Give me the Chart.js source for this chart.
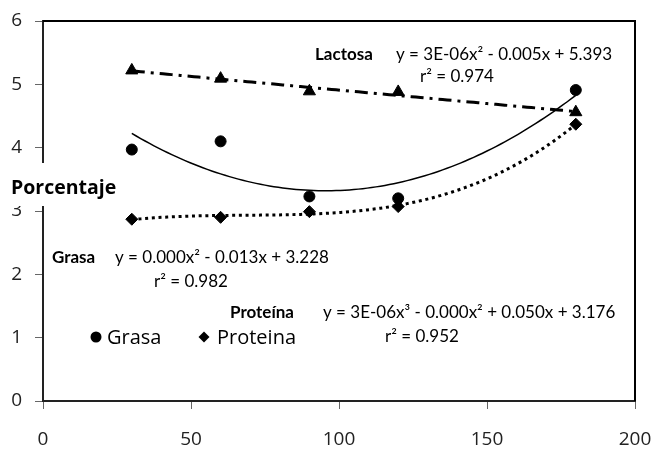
<!DOCTYPE html>
<html lang="es">
<head>
  <meta charset="UTF-8" />
  <title>Porcentaje de grasa, proteína y lactosa</title>
  <script src="https://cdn.jsdelivr.net/npm/chart.js"></script>
  <style>
    html, body { margin: 0; padding: 0; background: #fff; }
    #wrap { width: 655px; height: 449px; }
  </style>
</head>
<body>
<div id="wrap"><canvas id="grafico" width="655" height="449"></canvas></div>
<script>
// datos
const dias = [30, 60, 90, 120, 180];
const grasa = [3.97, 4.10, 3.23, 3.20, 4.91];
const proteina = [2.87, 2.90, 2.99, 3.07, 4.37];
const lactosa = [5.22, 5.09, 4.89, 4.88, 4.56];
const xTicks = [0, 50, 100, 150, 200];
const yTicks = [0, 1, 2, 3, 4, 5, 6];
const ejeY = "Porcentaje";
const leyenda = ["Grasa", "Proteina"];
const ecuaciones = [
  { nombre: "Lactosa", eq: "y = 3E-06x² - 0.005x + 5.393", r2: "r² = 0.974" },
  { nombre: "Grasa", eq: "y = 0.000x² - 0.013x + 3.228", r2: "r² = 0.982" },
  { nombre: "Proteína", eq: "y = 3E-06x³ - 0.000x² + 0.050x + 3.176", r2: "r² = 0.952" }
];
// posiciones de los textos (px)
const posEc = [
  { n: 315, e: 396, y: 60, r: 420, ry: 82 },
  { n: 52, e: 115, y: 263, r: 154, ry: 287 },
  { n: 230, e: 323, y: 318, r: 385, ry: 342 }
];

// ajuste polinómico por mínimos cuadrados (línea de tendencia)
function ajuste(xs, ys, grado) {
  const n = grado + 1;
  const A = [];
  for (let i = 0; i < n; i++) {
    A.push(new Array(n + 1).fill(0));
  }
  xs.forEach((x0, k) => {
    const x = x0 / 100;
    for (let i = 0; i < n; i++) {
      for (let j = 0; j < n; j++) A[i][j] += Math.pow(x, i + j);
      A[i][n] += ys[k] * Math.pow(x, i);
    }
  });
  for (let c = 0; c < n; c++) {
    let p = c;
    for (let r = c + 1; r < n; r++) if (Math.abs(A[r][c]) > Math.abs(A[p][c])) p = r;
    [A[c], A[p]] = [A[p], A[c]];
    for (let r = 0; r < n; r++) {
      if (r === c) continue;
      const f = A[r][c] / A[c][c];
      for (let j = c; j <= n; j++) A[r][j] -= f * A[c][j];
    }
  }
  const coef = A.map((fila, i) => fila[n] / fila[i]);
  const pts = [];
  for (let x = dias[0]; x <= dias[dias.length - 1] + 0.01; x += 1.5) {
    let y = 0;
    coef.forEach((c, i) => { y += c * Math.pow(x / 100, i); });
    pts.push({ x, y });
  }
  return pts;
}

const puntos = arr => dias.map((d, i) => ({ x: d, y: arr[i] }));

const marco = {
  id: "marco",
  afterDraw(chart) {
    const { ctx, chartArea: a } = chart;
    ctx.save();
    ctx.strokeStyle = "#000";
    ctx.lineWidth = 2;
    ctx.beginPath();
    ctx.moveTo(a.left, a.top);
    ctx.lineTo(a.right, a.top);
    ctx.lineTo(a.right, a.bottom);
    ctx.stroke();

    // etiqueta del eje Y, sobre fondo blanco
    ctx.fillStyle = "#fff";
    ctx.fillRect(0, 163, 122, 43);
    ctx.fillStyle = "#000";
    ctx.font = "bold 19.5px 'Open Sans'";
    ctx.textBaseline = "alphabetic";
    ctx.fillText(ejeY, 11, 194);

    // ecuaciones
    ecuaciones.forEach((e, i) => {
      const p = posEc[i];
      ctx.font = "bold 17px Lato";
      ctx.fillText(e.nombre, p.n, p.y);
      ctx.font = "17px Lato";
      ctx.fillText(e.eq, p.e, p.y);
      ctx.fillText(e.r2, p.r, p.ry);
    });

    // leyenda
    ctx.font = "20px 'Open Sans'";
    ctx.beginPath();
    ctx.arc(96, 337, 5.5, 0, Math.PI * 2);
    ctx.fill();
    ctx.fillText(leyenda[0], 107, 344);
    ctx.beginPath();
    ctx.moveTo(204, 331.5);
    ctx.lineTo(209.5, 337);
    ctx.lineTo(204, 342.5);
    ctx.lineTo(198.5, 337);
    ctx.closePath();
    ctx.fill();
    ctx.fillText(leyenda[1], 217, 344);
    ctx.restore();
  }
};

new Chart(document.getElementById("grafico"), {
  type: "scatter",
  data: {
    datasets: [
      { label: "tend-grasa", data: ajuste(dias, grasa, 2), showLine: true, pointRadius: 0,
        borderColor: "#000", borderWidth: 1.5, order: 5 },
      { label: "tend-lactosa", data: ajuste(dias, lactosa, 2), showLine: true, pointRadius: 0,
        borderColor: "#000", borderWidth: 3, borderDash: [13, 6, 3, 6], order: 5 },
      { label: "tend-proteina", data: ajuste(dias, proteina, 3), showLine: true, pointRadius: 0,
        borderColor: "#000", borderWidth: 3, borderDash: [3, 3.7], order: 5 },
      { label: "Grasa", data: puntos(grasa), pointStyle: "circle", pointRadius: 5.5,
        backgroundColor: "#000", borderColor: "#000", order: 1 },
      { label: "Proteina", data: puntos(proteina), pointStyle: "rectRot", pointRadius: 6,
        backgroundColor: "#000", borderColor: "#000", order: 1 },
      { label: "Lactosa", data: puntos(lactosa), pointStyle: "triangle", pointRadius: 7,
        backgroundColor: "#000", borderColor: "#000", order: 1 }
    ]
  },
  options: {
    responsive: false,
    animation: false,
    layout: { padding: { top: 21, right: 20, left: 0, bottom: 0 } },
    plugins: { legend: { display: false }, tooltip: { enabled: false } },
    scales: {
      x: {
        min: 0, max: 200,
        afterBuildTicks: s => { s.ticks = xTicks.map(v => ({ value: v })); },
        afterFit: s => { s.height = 48; s.paddingLeft = 0; s.paddingRight = 0; },
        grid: { drawOnChartArea: false, tickLength: 8, color: "#666" },
        border: { color: "#222", width: 2 },
        ticks: { color: "#222", padding: 19, font: { family: "Open Sans", size: 19 } }
      },
      y: {
        min: 0, max: 6,
        afterBuildTicks: s => { s.ticks = yTicks.map(v => ({ value: v })); },
        afterFit: s => { s.width = 43; s.paddingTop = 0; s.paddingBottom = 0; },
        grid: { drawOnChartArea: false, tickLength: 8, color: "#666" },
        border: { color: "#222", width: 2 },
        ticks: { color: "#222", padding: 13, font: { family: "Open Sans", size: 19 } }
      }
    }
  },
  plugins: [marco]
});
</script>
</body>
</html>
